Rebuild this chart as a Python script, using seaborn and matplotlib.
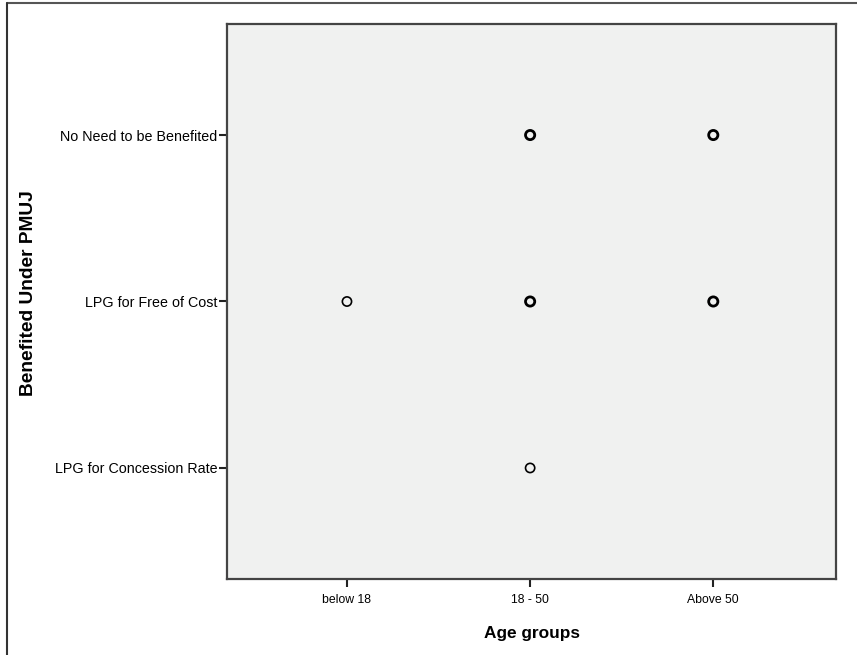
import matplotlib
matplotlib.use('Agg')
import matplotlib.pyplot as plt
from matplotlib.lines import Line2D
import seaborn as sns
import pandas as pd

# categories (bottom to top / left to right)
age_groups = ['below 18', '18 - 50', 'Above 50']
benefits = ['LPG for Concession Rate', 'LPG for Free of Cost', 'No Need to be Benefited']

# observed combinations
pt_age = ['below 18', '18 - 50', '18 - 50', '18 - 50', 'Above 50', 'Above 50']
pt_benefit = ['LPG for Free of Cost', 'LPG for Concession Rate', 'LPG for Free of Cost',
              'No Need to be Benefited', 'LPG for Free of Cost', 'No Need to be Benefited']
pt_multi = [False, False, True, True, True, True]  # overlapping cases -> bolder ring

df = pd.DataFrame({'age': pt_age, 'benefit': pt_benefit, 'multi': pt_multi})
df['xpos'] = df['age'].map({a: i for i, a in enumerate(age_groups)})
df['ypos'] = df['benefit'].map({b: i for i, b in enumerate(benefits)})

sns.set_style('white')
plt.rcParams['font.family'] = ['Liberation Sans', 'DejaVu Sans']
plt.rcParams['text.color'] = 'black'
plt.rcParams['axes.labelcolor'] = 'black'
plt.rcParams['xtick.color'] = 'black'
plt.rcParams['ytick.color'] = 'black'

fig = plt.figure(figsize=(8.57, 6.55), dpi=100)
ax = fig.add_axes([227/857, 1-579/655, (836-227)/857, (579-24)/655])
ax.set_facecolor('#F0F1F0')

for flag, lw in [(False, 1.2), (True, 2.0)]:
    sub = df[df['multi'] == flag]
    sns.scatterplot(data=sub, x='xpos', y='ypos', ax=ax, s=44, marker='o',
                    facecolor='none', edgecolor='black', linewidth=lw, legend=False)

ax.set_xlim(-0.655, 2.67)
ax.set_ylim(-0.667, 2.667)
ax.set_xticks(range(len(age_groups)))
ax.set_xticklabels(age_groups, fontsize=8.8)
ax.set_yticks(range(len(benefits)))
ax.set_yticklabels(benefits, fontsize=10.3)
ax.tick_params(axis='both', direction='out', length=6, width=1.5, color='#222222',
               bottom=True, left=True)
ax.tick_params(axis='x', pad=5)
ax.tick_params(axis='y', pad=1)
for sp in ax.spines.values():
    sp.set_visible(True)
    sp.set_color('#444444')
    sp.set_linewidth(1.6)

ax.set_xlabel('Age groups', fontsize=12.4, fontweight='bold', labelpad=14)
ax.set_ylabel('Benefited Under PMUJ', fontsize=13.8, fontweight='bold')
ax.yaxis.set_label_coords((37 - 227) / (836 - 227), (655 - 293 - 76) / (579 - 24))

# outer frame (top and left edges)
fig.add_artist(Line2D([7/857, 1], [1-3/655, 1-3/655], transform=fig.transFigure, color='#555555', lw=1.5))
fig.add_artist(Line2D([7/857, 7/857], [0, 1-3/655], transform=fig.transFigure, color='#333333', lw=1.5))

fig.savefig('out.png', dpi=100)
